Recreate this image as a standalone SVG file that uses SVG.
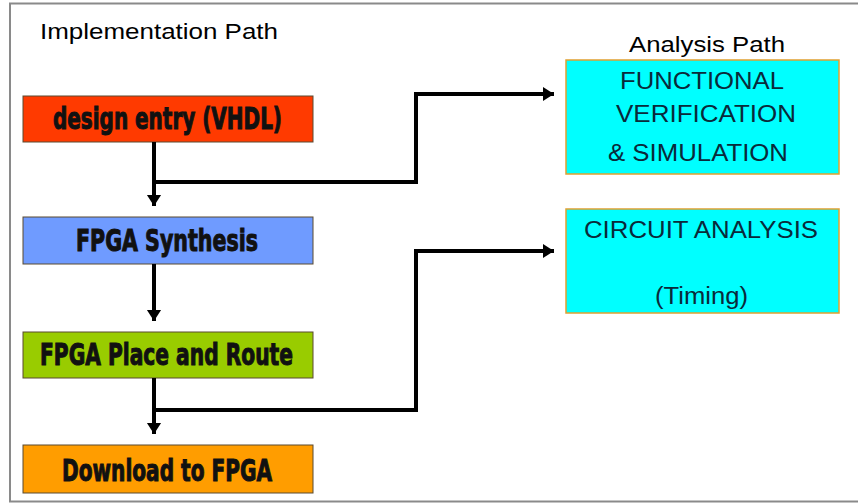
<svg xmlns="http://www.w3.org/2000/svg" width="858" height="504" viewBox="0 0 858 504">
<style>
.lbl{font-family:"Liberation Sans","Arial",sans-serif;fill:#000;}
.bold{font-family:"DejaVu Sans Condensed","Liberation Sans",sans-serif;font-weight:bold;font-size:30px;fill:#111;stroke:#111;stroke-width:1;}
.ana{font-family:"Liberation Sans","Arial",sans-serif;font-size:23px;fill:#0a2a3a;}
.box{stroke:#5a4a30;stroke-width:1;}
.cyan{fill:#00FFFF;stroke:#E0A030;stroke-width:1.5;}
.conn{fill:none;stroke:#000;stroke-width:4;}
</style>
<defs>
<marker id="ah" markerWidth="4" markerHeight="4" refX="2.8" refY="2" orient="auto" markerUnits="strokeWidth">
<path d="M0,0.2 L2.8,2 L0,3.8 Z" fill="#000"/>
</marker>
</defs>
<rect x="0" y="0" width="858" height="504" fill="#fff"/>
<rect x="10" y="3.5" width="850" height="498" fill="#fff" stroke="#8a8a8a" stroke-width="2"/>
<text class="lbl" x="40" y="39" font-size="22" textLength="238" lengthAdjust="spacingAndGlyphs">Implementation Path</text>
<text class="lbl" x="629" y="52" font-size="22" textLength="156" lengthAdjust="spacingAndGlyphs">Analysis Path</text>

<g id="design-entry">
<rect class="box" x="23" y="96" width="290" height="46" fill="#FF3A00"/>
<text class="bold" x="53" y="129" textLength="229" lengthAdjust="spacingAndGlyphs">design entry (VHDL)</text>
</g>
<g id="synthesis">
<rect class="box" x="23" y="217" width="290" height="47" fill="#6F9BFF"/>
<text class="bold" x="76" y="251" textLength="182" lengthAdjust="spacingAndGlyphs">FPGA Synthesis</text>
</g>
<g id="place-route">
<rect class="box" x="23" y="332" width="290" height="46" fill="#99CC00"/>
<text class="bold" x="40" y="365" textLength="253" lengthAdjust="spacingAndGlyphs">FPGA Place and Route</text>
</g>
<g id="download">
<rect class="box" x="23" y="445" width="290" height="48" fill="#FF9D00"/>
<text class="bold" x="62" y="481" textLength="210" lengthAdjust="spacingAndGlyphs">Download to FPGA</text>
</g>
<g id="functional">
<rect class="cyan" x="566" y="60" width="273" height="114"/>
<text class="ana" x="620" y="89" textLength="164" lengthAdjust="spacingAndGlyphs">FUNCTIONAL</text>
<text class="ana" x="616" y="122" textLength="180" lengthAdjust="spacingAndGlyphs">VERIFICATION</text>
<text class="ana" x="608" y="161" textLength="180" lengthAdjust="spacingAndGlyphs">&amp; SIMULATION</text>
</g>
<g id="circuit">
<rect class="cyan" x="566" y="209" width="273" height="104"/>
<text class="ana" x="584" y="238" textLength="234" lengthAdjust="spacingAndGlyphs">CIRCUIT ANALYSIS</text>
<text class="ana" x="655" y="304" textLength="93" lengthAdjust="spacingAndGlyphs">(Timing)</text>
</g>

<g id="connectors">
<line class="conn" x1="154" y1="142" x2="154" y2="206" marker-end="url(#ah)"/>
<line class="conn" x1="154" y1="264" x2="154" y2="321" marker-end="url(#ah)"/>
<line class="conn" x1="154" y1="378" x2="154" y2="434" marker-end="url(#ah)"/>
<polyline class="conn" points="154,182 416,182 416,94 554,94" marker-end="url(#ah)"/>
<polyline class="conn" points="154,410 416,410 416,251 554,251" marker-end="url(#ah)"/>
</g>
</svg>
